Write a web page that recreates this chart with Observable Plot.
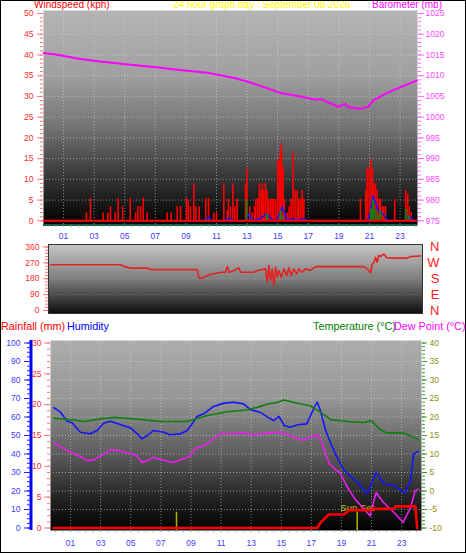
<!DOCTYPE html>
<html>
<head>
<meta charset="utf-8">
<script src="https://cdn.jsdelivr.net/npm/d3@7"></script>
<script src="https://cdn.jsdelivr.net/npm/@observablehq/plot@0.6"></script>
<style>
html,body{margin:0;padding:0;background:#fff;}
#chart{position:relative;width:466px;height:555px;overflow:hidden;background:#fff;font-family:"Liberation Sans",Arial,sans-serif;}
#chart svg{position:absolute;left:0;top:0;}
.t{position:absolute;white-space:nowrap;font-size:10.8px;line-height:11px;}
.top{line-height:8px;}
#border{position:absolute;left:0;top:0;width:466px;height:553px;box-sizing:border-box;border:1px solid #000;}
</style>
</head>
<body>
<div id="chart"></div>
<script>
// ---------------- DATA ----------------
const titleText = "24 hour graph day : September 08 2026";
const hourTicks = [1,3,5,7,9,11,13,15,17,19,21,23];

// Panel 1: wind gust bars (kph)
const gustHour = [2.50,2.76,3.59,3.90,4.07,4.38,4.57,4.86,5.36,5.71,5.86,6.03,6.21,6.47,7.78,8.04,8.43,8.65,9.04,9.15,9.30,9.52,9.65,9.87,10.30,10.48,10.82,11.00,11.48,11.70,11.78,11.92,12.07,12.20,12.35,12.90,13.00,13.18,13.33,13.48,13.57,13.70,13.81,13.92,14.00,14.09,14.20,14.31,14.42,14.53,14.64,14.75,14.88,15.01,15.10,15.18,15.25,15.36,15.44,15.62,15.75,15.88,16.01,16.14,16.27,16.38,16.49,16.60,16.71,20.41,20.76,20.85,20.98,21.11,21.20,21.28,21.39,21.50,21.63,21.72,21.85,21.94,22.05,22.65,23.37,23.50,23.61,23.73];
const gustKph = [1.9,5.4,1.9,1.9,3.4,1.9,5.4,3.4,5.4,1.9,3.4,3.4,5.4,1.9,1.9,1.9,3.4,3.4,5.4,4.8,3.4,8.9,3.4,3.4,5.4,5.4,1.9,1.9,8.9,2.4,5.2,3.4,8.9,3.4,5.2,8.9,12.7,3.4,1.9,3.4,5.2,5.4,8.9,7.3,8.9,7.3,8.9,7.3,5.2,5.2,5.2,5.2,5.2,14.7,14.7,17,18.6,12.9,5.2,1.9,3.4,5.2,16.5,7.3,7.3,5.2,5.2,7.3,5.2,5.2,7.3,12.7,12.7,14.7,12.7,8.9,8.9,7.3,5.2,5.2,3.4,3.4,3.4,5.2,7.3,6.5,3.4,1.9];
// average wind (blue line)
const avgHour = [0,10.3,10.5,10.66,11.5,11.7,11.92,12.1,12.9,13.1,13.26,13.4,13.77,14.09,14.31,14.47,14.75,14.95,15.3,15.44,15.62,16.0,16.2,16.71,16.9,20.74,20.96,21.11,21.24,21.4,21.57,21.72,21.9,22.2,23.3,23.46,23.68,23.9,24.1];
const avgKph = [0,0,1.0,0,0,0.6,0.6,0,0,1.6,0.8,0,0.4,1.2,1.6,0.8,0,0.2,3.4,2.0,0,0.6,0,0.6,0,0,0.6,2.8,6.0,4.4,2.4,2.0,1.6,0,0,0.6,1.0,0,0];
// green bars
const greenHour = [12.96,14.31,15.18,15.3,21.11,21.24,21.4,21.57,21.72,23.37,23.56];
const greenVal = [5.0,1.6,2.4,1.0,2.8,5.0,2.8,1.2,2.4,2.8,1.2];
// barometer (mb)
const baroHour = [-0.3,0.5,2,3.4,5.2,6.9,8.6,10.4,12.1,13,14.3,15.2,16.5,17.45,17.78,18.97,19.41,19.63,20.39,20.93,21.26,22.13,23.0,24.09];
const baroMb = [1015.5,1015.1,1014.1,1013.4,1012.7,1012.1,1011.4,1010.7,1009.5,1008.6,1007.0,1005.8,1005.0,1004.2,1004.4,1002.5,1003.2,1002.4,1002.0,1002.5,1004.1,1005.8,1007.2,1008.8];

// Panel 2: wind direction (degrees)
const dirHour = [0.15,4.73,4.94,5.38,6.47,6.69,9.74,9.85,10.07,10.4,10.82,11.26,11.59,11.7,11.83,12.13,12.46,12.57,13.44,13.66,14.2,14.31,14.42,14.53,14.64,14.75,14.86,14.97,15.07,15.23,15.4,15.58,15.73,15.88,16.05,16.23,16.38,16.6,16.82,17.14,17.36,17.47,20.63,20.85,21.07,21.18,21.28,21.39,21.5,21.6,21.72,21.94,22.11,22.48,23.46,23.68,24.33];
const dirDeg = [259,259,251,240,240,232,232,183,183,198,208,217,217,249,217,227,242,217,217,227,236,160,255,170,236,142,246,189,227,189,236,198,242,198,236,208,236,217,236,227,242,249,249,236,214,265,270,302,274,312,306,321,299,297,297,306,309];
const compassDeg = [360,270,180,90,0];
const compassLabel = ["N","W","S","E","N"];

// Panel 3
const tempHour = [-0.1,1.2,1.9,3.0,3.9,5.2,7.0,8.75,10.1,11.4,12.7,13.4,14.1,14.7,15.2,15.6,16.3,16.9,17.6,18.3,19.6,20.5,21.0,21.6,22.0,23.1,23.8,24.1];
const tempC = [19.7,19.2,18.8,19.5,19.9,19.5,18.8,18.8,20.4,21.4,21.9,22.6,23.5,23.9,24.6,24.2,23.5,23.1,21.3,19.3,18.7,18.5,19.0,16.5,15.7,15.7,14.5,13.9];
const humHour = [-0.1,0.33,0.78,1.1,1.66,2.3,2.77,3.2,3.65,4.5,5.0,5.4,5.76,6.1,6.5,7.2,7.6,8.3,8.75,9.08,9.4,9.85,10.5,11.2,11.85,12.5,12.96,13.6,14.1,14.5,14.85,15.2,15.6,16.1,16.7,17.2,17.4,17.6,17.95,18.3,18.7,19.2,19.4,20.05,20.7,21.0,21.3,21.8,22.5,23.2,23.6,23.8,24.1];
const humPct = [65,62.6,57.7,56.9,51.8,50.9,52.7,56.6,57.7,55.4,54,51.2,48.2,50,52.7,51.8,50.4,50.9,52.7,56.3,60.3,61.7,65.7,67.5,68,67.1,63.9,62.6,59.9,58.1,60.3,55.4,54.5,55.8,56.3,65.3,68,63.5,52.7,45.5,38.3,31,29.3,24.8,18.5,23.9,30.2,23.9,23,18.8,25.7,40,41.4];
const dewHour = [-0.1,0.78,1.66,2.1,2.55,3.0,3.65,4.3,5.0,5.4,5.76,6.3,6.5,7.0,7.8,8.4,8.9,9.3,9.85,10.4,11.0,11.6,12.3,13.2,14.1,14.95,15.6,16.3,16.7,17.4,17.7,18.2,18.7,18.9,19.4,19.9,20.4,20.9,21.3,21.8,22.5,23.1,23.6,23.9,24.1];
const dewC = [13,10.9,9.3,8.2,8.4,9.5,11.1,10.9,10,9.5,7.7,8.6,9.1,8.5,7.7,8.6,9.3,11.5,12.2,13.8,15.6,15.4,15.7,15.2,15.7,15.9,14.9,13.8,14.1,15.2,13.1,7.3,5.5,5.0,1.0,-2.2,-4.4,-6.7,-0.4,-3.1,-5.8,-8.5,-4.4,0.1,0.5];
const rainHour = [-0.13,17.39,17.61,17.79,17.94,18.16,19.16,19.38,19.49,20.95,21.04,22.48,22.59,23.92,24.03];
const rainMm = [0,0,0.86,1.3,1.7,2.2,2.2,2.6,2.9,2.9,3.1,3.1,3.5,3.5,0];
const sunHour = [8.04, 20.05];
const sunLabel = ["", "Sun Set"];

// ---------------- BUILD ----------------
const zip = (xs, ys) => xs.map((h, i) => ({h, v: ys[i]}));
const gust = zip(gustHour, gustKph);
const avg = zip(avgHour, avgKph);
const green = zip(greenHour, greenVal);
const baro = zip(baroHour, baroMb);
const dir = zip(dirHour, dirDeg);
const compass = compassDeg.map((v, i) => ({v, t: compassLabel[i]}));
const temp = zip(tempHour, tempC);
const hum = zip(humHour, humPct);
const dew = zip(dewHour, dewC);
const rain = zip(rainHour, rainMm);
const sun = sunHour.map((h, i) => ({h, t: sunLabel[i]}));

const W = 466, H = 555;
const FONT = "Liberation Sans, Arial, sans-serif";
const chart = document.getElementById("chart");
const fmtHour = d => String(d).padStart(2, "0");
const fmtNum = d => String(d);
const base = {width: W, height: H, style: {background: "transparent", fontFamily: FONT, fontSize: "8.5px", overflow: "visible"}};
const grid = {stroke: "#dcdcdc", strokeOpacity: 0.55, strokeDasharray: "1,2"};

function add(svg) { chart.appendChild(svg); return svg; }
function addGradient(svg, id, stops) {
  const defs = d3.select(svg).insert("defs", ":first-child");
  const lg = defs.append("linearGradient").attr("id", id)
    .attr("x1", 0).attr("y1", 0).attr("x2", 0).attr("y2", 1);
  for (const [o, c] of stops) lg.append("stop").attr("offset", o).attr("stop-color", c);
}
function label(text, left, top, color, size, cls) {
  const d = document.createElement("div");
  d.className = "t" + (cls ? " " + cls : ""); d.textContent = text;
  d.style.left = left + "px"; d.style.top = top + "px"; d.style.color = color;
  if (size) d.style.fontSize = size + "px";
  chart.appendChild(d);
}

// ---- Panel 1 ----
const p1 = {...base, marginLeft: 43, marginRight: 49, marginTop: 10, marginBottom: 330};
const p1x = {domain: [-0.31, 24.14], axis: null, label: null};
const p1y = {insetTop: 3, insetBottom: 4.7, label: null, axis: null};

const s1 = add(Plot.plot({
  ...p1, x: p1x, y: {...p1y, domain: [0, 50]},
  marks: [
    Plot.frame({fill: "url(#g1)"}),
    Plot.gridY(d3.range(5, 50, 5), grid),
    Plot.gridX(hourTicks, grid),
    Plot.ruleX(gust, {x: "h", y1: 0, y2: "v", stroke: "#ff0000", strokeWidth: 1.6}),
    Plot.line(avg, {x: "h", y: "v", stroke: "#1414ff", strokeWidth: 1.6}),
    Plot.ruleX(green, {x: "h", y1: 0, y2: "v", stroke: "#108010", strokeWidth: 2}),
    Plot.ruleY([0], {stroke: "#ff0000", strokeWidth: 2}),
    Plot.ruleY([-1], {stroke: "#10604e", strokeWidth: 2}),
    Plot.axisY(d3.range(0, 51, 1), {anchor: "left", tickSize: 3, fill: "none", stroke: "#ff7878"}),
    Plot.axisY(d3.range(0, 51, 5), {anchor: "left", tickSize: 6, tickPadding: 4, stroke: "#ff7878", fill: "#ff2a2a", fontSize: 8.5, tickFormat: fmtNum}),
    Plot.axisX(d3.range(0, 24.01, 0.5), {anchor: "bottom", tickSize: 2, fill: "none", stroke: "#9a9a9a"}),
    Plot.axisX(hourTicks, {anchor: "bottom", tickSize: 0, tickPadding: 7, fill: "#3c3cff", fontSize: 8.5, tickFormat: fmtHour})
  ]
}));
addGradient(s1, "g1", [[0, "#b4b4b4"], [0.3, "#a0a0a0"], [0.55, "#727272"], [0.8, "#303030"], [1, "#000000"]]);

add(Plot.plot({
  ...p1, x: p1x, y: {...p1y, domain: [975, 1025]},
  marks: [
    Plot.line(baro, {x: "h", y: "v", stroke: "#ff00ff", strokeWidth: 2}),
    Plot.axisY(d3.range(975, 1026, 1), {anchor: "right", tickSize: 3, fill: "none", stroke: "#ff66ff"}),
    Plot.axisY(d3.range(975, 1026, 5), {anchor: "right", tickSize: 6, tickPadding: 2, stroke: "#ff66ff", fill: "#ff44ff", fontSize: 8.5, tickFormat: fmtNum})
  ]
}));

// ---- Panel 2 ----
const s2 = add(Plot.plot({
  ...base, marginLeft: 48, marginRight: 44, marginTop: 244, marginBottom: 242,
  x: {domain: [0.02, 24.46], axis: null, label: null},
  y: {domain: [0, 360], insetTop: 2.5, insetBottom: 3, label: null, axis: null},
  marks: [
    Plot.frame({fill: "url(#g2)"}),
    Plot.gridY([90, 180, 270], {...grid, strokeOpacity: 0.3}),
    Plot.line(dir, {x: "h", y: "v", stroke: "#e42222", strokeWidth: 1.6}),
    Plot.frame({stroke: "#333", strokeWidth: 1}),
    Plot.axisY(d3.range(0, 361, 18), {anchor: "left", tickSize: 3, fill: "none", stroke: "#ff7878"}),
    Plot.axisY(compassDeg, {anchor: "left", tickSize: 5, tickPadding: 4, stroke: "#ff7878", fill: "#ff2a2a", fontSize: 8.5, tickFormat: fmtNum}),
    Plot.text(compass, {y: "v", text: "t", frameAnchor: "right", dx: 17, fill: "#ff1a1a", fontSize: 13})
  ]
}));
addGradient(s2, "g2", [[0, "#c6c6c6"], [0.5, "#7e7e7e"], [1, "#0c0c0c"]]);

// ---- Panel 3 ----
const p3 = {...base, marginLeft: 50, marginRight: 45, marginTop: 340, marginBottom: 25};
const p3x = {domain: [-0.332, 24.32], axis: null, label: null};
const p3y = {insetTop: 2.5, insetBottom: 2.5, label: null, axis: null};

const s3 = add(Plot.plot({
  ...p3, x: p3x, y: {...p3y, domain: [0, 100]},
  marks: [
    Plot.frame({fill: "url(#g3)"}),
    Plot.gridY(d3.range(10, 100, 10), grid),
    Plot.gridX(hourTicks, grid),
    Plot.ruleX(sun, {x: "h", y1: -1.4, y2: 8.5, stroke: "#b0b000", strokeWidth: 1.5}),
    Plot.text(sun, {x: "h", y: 10.7, text: "t", fill: "#c8c800", fontSize: 9.5}),
    Plot.line(hum, {x: "h", y: "v", stroke: "#1414ff", strokeWidth: 1.6}),
    Plot.axisX(d3.range(0, 24.01, 0.5), {anchor: "bottom", tickSize: 2, fill: "none", stroke: "#9a9a9a"}),
    Plot.axisX(hourTicks, {anchor: "bottom", tickSize: 0, tickPadding: 9.5, fill: "#3c3cff", fontSize: 8.5, tickFormat: fmtHour})
  ]
}));
addGradient(s3, "g3", [[0, "#adadad"], [0.3, "#979797"], [0.58, "#606060"], [0.82, "#262626"], [1, "#000000"]]);

// humidity axis (blue) placed left of the rainfall axis
add(Plot.plot({
  ...base, marginLeft: 30, marginRight: W - 40, marginTop: 340, marginBottom: 25,
  x: {domain: [0, 1], axis: null, label: null},
  y: {...p3y, domain: [0, 100]},
  marks: [
    Plot.ruleX([0], {stroke: "#0000ff", strokeWidth: 3, dx: 0.5}),
    Plot.axisY(d3.range(0, 100.1, 2.5), {anchor: "left", tickSize: 3, fill: "none", stroke: "#2020ff"}),
    Plot.axisY(d3.range(0, 101, 10), {anchor: "left", tickSize: 6, tickPadding: 4, stroke: "#2020ff", fill: "#3c3cff", fontSize: 8.5, tickFormat: fmtNum})
  ]
}));

// temperature & dew point
add(Plot.plot({
  ...p3, x: p3x, y: {...p3y, domain: [-10, 40]},
  marks: [
    Plot.line(temp, {x: "h", y: "v", stroke: "#0f7f0f", strokeWidth: 1.6}),
    Plot.line(dew, {x: "h", y: "v", stroke: "#f01cf0", strokeWidth: 1.6}),
    Plot.axisY(d3.range(-10, 41, 1), {anchor: "right", tickSize: 3, fill: "none", stroke: "#3a9a3a"}),
    Plot.axisY(d3.range(-10, 41, 5), {anchor: "right", tickSize: 5, tickPadding: 3, stroke: "#3a9a3a", fill: "#8e8e10", fontSize: 8.5, tickFormat: fmtNum})
  ]
}));

// rainfall
add(Plot.plot({
  ...p3, x: p3x, y: {...p3y, domain: [0, 30]},
  marks: [
    Plot.line(rain, {x: "h", y: "v", stroke: "#ff0000", strokeWidth: 2.6}),
    Plot.axisY(d3.range(0, 31, 1), {anchor: "left", tickSize: 3, fill: "none", stroke: "#ff7878"}),
    Plot.axisY(d3.range(0, 31, 5), {anchor: "left", tickSize: 6, tickPadding: 3, stroke: "#ff7878", fill: "#ff2a2a", fontSize: 8.5, tickFormat: fmtNum})
  ]
}));

// ---- titles ----
label("Windspeed (kph)", 34, 0.5, "#ff0000", 10, "top");
label(titleText, 173, 0.5, "#ffff00", 10, "top");
label("Barometer (mb)", 372, 0.5, "#ff00ff", 10, "top");
label("Rainfall (mm)", 1, 321, "#ff0000");
label("Humidity", 67, 321, "#0000ff");
label("Temperature (°C)", 313, 321, "#008000");
label("Dew Point (°C)", 394, 321, "#ff00ff");

const b = document.createElement("div"); b.id = "border"; chart.appendChild(b);
</script>
</body>
</html>
